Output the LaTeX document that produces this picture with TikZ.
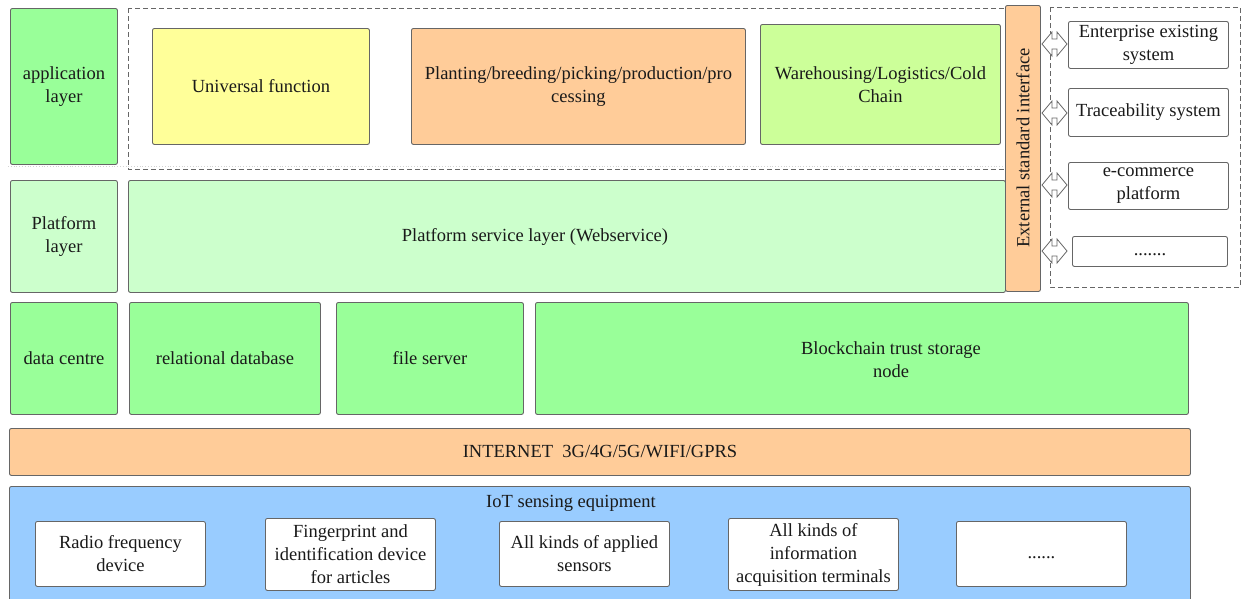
\documentclass[tikz,border=0pt]{standalone}
\usepackage{fontspec}
\setmainfont{Liberation Serif}
\definecolor{lgreen}{HTML}{99FF99}
\definecolor{lyellow}{HTML}{FFFF99}
\definecolor{lorange}{HTML}{FFCC99}
\definecolor{lime}{HTML}{CCFF99}
\definecolor{pale}{HTML}{CCFFCC}
\definecolor{lblue}{HTML}{99CCFF}
\definecolor{edge}{HTML}{666666}
\definecolor{txt}{HTML}{1A1A1A}
\begin{document}
\begin{tikzpicture}[x=1pt,y=-1pt,
  box/.style={draw=edge, line width=0.9pt, rounded corners=2pt, align=center,
    anchor=north west, inner sep=2pt, text=txt, font=\fontsize{18.5}{23}\selectfont},
  lbl/.style={align=center, text=txt, inner sep=0pt, font=\fontsize{18.5}{23}\selectfont},
  grp/.style={draw=edge, line width=0.8pt, dashed, dash pattern=on 5pt off 3pt},
  darr/.style={draw=edge, fill=white, line width=0.8pt, line join=miter}]
\useasboundingbox (0,0) rectangle (1241,598);
% application layer
\node[box, fill=lgreen, minimum width=107, minimum height=156] (app) at (10,8) {application\\layer};
\draw[gray!35, dotted, line width=0.8pt] (8,166) -- (1005,166);
\draw[grp] (128,8) rectangle (1005,169);
\node[box, fill=lyellow, minimum width=217, minimum height=116] (univ) at (152,28) {Universal function};
\node[box, fill=lorange, minimum width=334, minimum height=116] (plant) at (411,28) {Planting/breeding/picking/production/pro\\cessing};
\node[box, fill=lime, minimum width=240, minimum height=120] (ware) at (760,24) {Warehousing/Logistics/Cold\\Chain};
% platform layer
\node[box, fill=pale, minimum width=107, minimum height=112] (platl) at (10,180) {Platform\\layer};
\node[box, fill=pale, minimum width=877, minimum height=112] (plats) at (128,180) {};
\node[lbl] (platstxt) at (535,237) {Platform service layer (Webservice)};
% external interface
\node[box, fill=lorange, minimum width=35, minimum height=286] (ext) at (1005,5) {};
\node[lbl, rotate=90] (exttxt) at (1023,148) {External standard interface};
\draw[grp] (1050,7) rectangle (1240,287);
\node[box, fill=white, minimum width=160, minimum height=47] (ent) at (1068,21) {Enterprise existing\\system};
\node[box, fill=white, minimum width=160, minimum height=48] (trace) at (1068,88) {Traceability system};
\node[box, fill=white, minimum width=160, minimum height=47] (ecom) at (1068,162) {e-commerce\\platform};
\node[box, fill=white, minimum width=155, minimum height=30] (more) at (1072,236) {\vphantom{Ag}.......};
\foreach \yy in {44,113,185,251}{
  \draw[darr] (1042,\yy) -- ++(10,-12) -- ++(0,7) -- ++(5,0) -- ++(0,-7) -- ++(10,12)
    -- ++(-10,12) -- ++(0,-7) -- ++(-5,0) -- ++(0,7) -- cycle;
}
% data centre
\node[box, fill=lgreen, minimum width=107, minimum height=112] (dc) at (10,302) {data centre};
\node[box, fill=lgreen, minimum width=191, minimum height=112] (rdb) at (129,302) {relational database};
\node[box, fill=lgreen, minimum width=187, minimum height=112] (fs) at (336,302) {file server};
\node[box, fill=lgreen, minimum width=653, minimum height=112] (bc) at (535,302) {};
\node[lbl] (bctxt) at (891,360) {Blockchain trust storage\\node};
% internet
\node[box, fill=lorange, minimum width=1181, minimum height=47] (inet) at (9,428) {INTERNET\ \ 3G/4G/5G/WIFI/GPRS};
% IoT
\node[box, fill=lblue, minimum width=1181, minimum height=130] (iot) at (9,486) {};
\node[lbl] (iottxt) at (571,503) {IoT sensing equipment};
\node[box, fill=white, minimum width=170, minimum height=65] (rf) at (35,521) {Radio frequency\\device};
\node[box, fill=white, minimum width=170, minimum height=72] (fp) at (265,518) {Fingerprint and\\identification device\\for articles};
\node[box, fill=white, minimum width=170, minimum height=65] (sens) at (499,521) {All kinds of applied\\sensors};
\node[box, fill=white, minimum width=170, minimum height=72] (info) at (728,518) {All kinds of\\information\\acquisition terminals};
\node[box, fill=white, minimum width=170, minimum height=65] (more2) at (956,521) {\vphantom{Ag}......};
\end{tikzpicture}
\end{document}
